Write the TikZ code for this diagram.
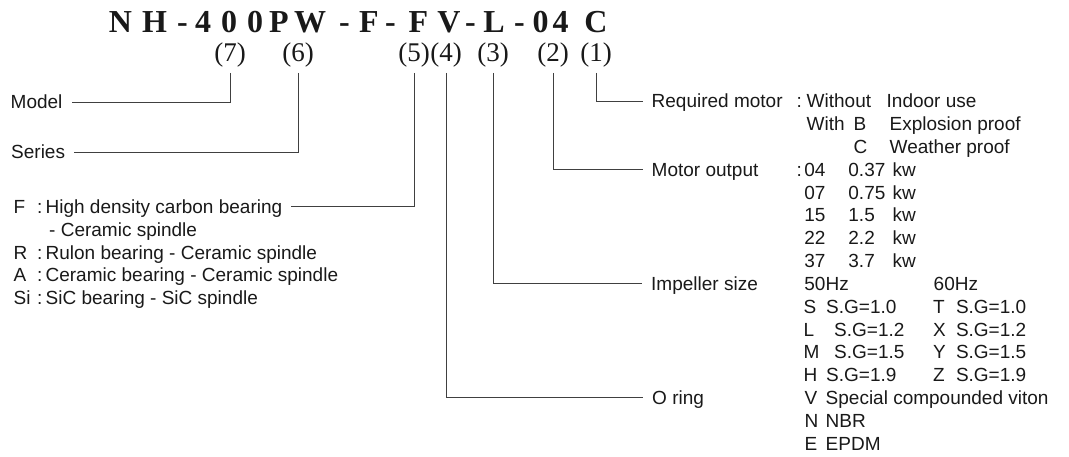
\documentclass[tikz,border=0pt]{standalone}
\usepackage{fontspec}
\setmainfont{Liberation Serif}
\setsansfont{Liberation Sans}
\usepackage{tikz}

\begin{document}
\begin{tikzpicture}[
  x=1pt, y=-1pt,
  every node/.style={inner sep=0pt, anchor=base west, text=black!90},
  code/.style={anchor=base, font=\bfseries\fontsize{32}{32}\selectfont},
  idx/.style={anchor=base, font=\fontsize{27}{27}\selectfont},
  lab/.style={font=\sffamily\fontsize{19}{22.8}\selectfont, text height=14pt, text depth=0pt},
  lead/.style={draw=black!75, line width=0.8pt, shorten <=5pt, shorten >=9pt},
]
\useasboundingbox (0,0) rectangle (1069,457);

\foreach \ch/\cx [count=\i] in {N/120.5, H/154.5, -/182.5, 4/203, 0/229, 0/255, P/279, W/310,
    -/344.5, F/369, -/390.5, F/418.5, V/449, -/470.5, L/494, -/519.5, 0/540.5, 4/560.5, C/596}
  \node[code] (t\i) at (\cx,33) {\ch};

\node[idx] (p7) at (230,62) {(7)};
\node[idx] (p6) at (298,62) {(6)};
\node[idx] (p5) at (414,62) {(5)};
\node[idx] (p4) at (446,62) {(4)};
\node[idx] (p3) at (493,62) {(3)};
\node[idx] (p2) at (553,62) {(2)};
\node[idx] (p1) at (596,62) {(1)};

\node[lab] (model) at (10.5,109) {Model};
\node[lab] (series) at (11,159) {Series};

\node[lab] (kf) at (13.5,213.5) {F};
\node[lab] (fcarb) at (37,213.5) {:\,High density carbon bearing};
\node[lab] (fcer) at (49,236.3) {- Ceramic spindle};
\node[lab] (kr) at (13.5,259.1) {R};
\node[lab] (rrul) at (37,259.1) {:\,Rulon bearing - Ceramic spindle};
\node[lab] (ka) at (13.5,281.9) {A};
\node[lab] (acer) at (37,281.9) {:\,Ceramic bearing - Ceramic spindle};
\node[lab] (ksi) at (13.5,304.7) {Si};
\node[lab] (sisic) at (37,304.7) {:\,SiC bearing - SiC spindle};

\node[lab] (reqmot) at (651.5,108) {Required motor};
\node[lab] (reqc) at (796.3,108) {:};
\node[lab] (rq1) at (806.5,108) {Without};
\node[lab] (rq1d) at (886.5,108) {Indoor use};
\node[lab] (rq2) at (806.5,130.8) {With};
\node[lab] (rq2k) at (853.5,130.8) {B};
\node[lab] (rq2d) at (889.5,130.8) {Explosion proof};
\node[lab] (rq3k) at (853.5,153.6) {C};
\node[lab] (rq3d) at (889.5,153.6) {Weather proof};

\node[lab] (motout) at (651.5,176.4) {Motor output};
\node[lab] (motc) at (796.3,176.4) {:};
\foreach \mc/\mw [count=\i from 0] in {04/0.37, 07/0.75, 15/1.5, 22/2.2, 37/3.7} {
  \node[lab] (mo\i) at (804.2,176.4+22.8*\i) {\mc};
  \node[lab] (mv\i) at (848.2,176.4+22.8*\i) {\mw};
  \node[lab] (mu\i) at (892.3,176.4+22.8*\i) {kw};
}

\node[lab] (impel) at (651,290.4) {Impeller size};
\node[lab] (hz50) at (804.2,290.4) {50Hz};
\node[lab] (hz60) at (933.5,290.4) {60Hz};
\foreach \sa/\sx/\sb/\sg [count=\i] in {S/826/T/1.0, L/834/X/1.2, M/834/Y/1.5, H/826/Z/1.9} {
  \node[lab] (sa\i) at (803.5,290.4+22.8*\i) {\sa};
  \node[lab] (sga\i) at (\sx,290.4+22.8*\i) {S.G=\sg};
  \node[lab] (sb\i) at (933,290.4+22.8*\i) {\sb};
  \node[lab] (sgb\i) at (955.8,290.4+22.8*\i) {S.G=\sg};
}

\node[lab] (oring) at (652,404.4) {O ring};
\foreach \ok/\om [count=\i from 0] in {V/Special compounded viton, N/NBR, E/EPDM} {
  \node[lab] (ok\i) at (804.5,404.4+22.8*\i) {\ok};
  \node[lab] (om\i) at (825.5,404.4+22.8*\i) {\om};
}

\draw[lead] (p7.south) |- (model.east);
\draw[lead] (p6.south) |- (series.east);
\draw[lead] (p5.south) |- (fcarb.east);
\draw[lead] (p4.south) |- (oring.west);
\draw[lead] (p3.south) |- (impel.west);
\draw[lead] (p2.south) |- (motout.west);
\draw[lead] (p1.south) |- (reqmot.west);
\end{tikzpicture}
\end{document}
